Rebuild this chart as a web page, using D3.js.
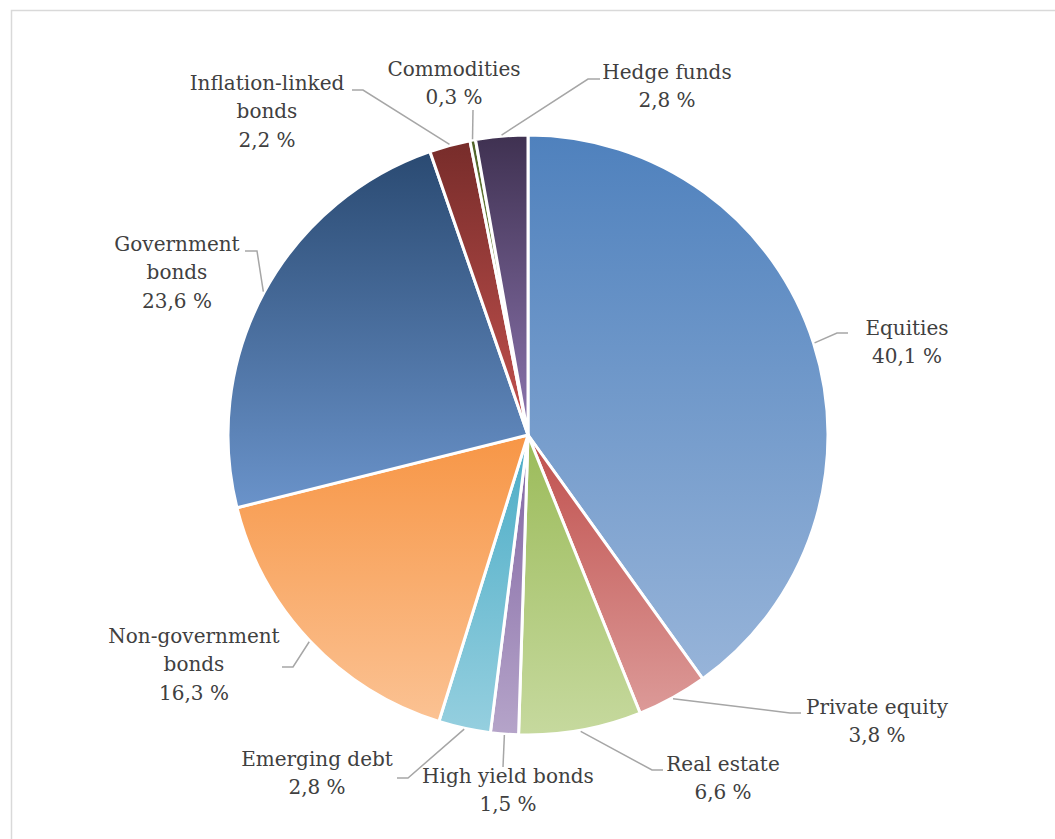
<!DOCTYPE html>
<html>
<head>
<meta charset="utf-8">
<script src="https://cdn.jsdelivr.net/npm/d3@7"></script>
<style>
  html, body { margin: 0; padding: 0; background: #ffffff; }
  svg { display: block; }
</style>
</head>
<body>
<svg id="chart" width="1055" height="839"></svg>
<script>
// ---- data ----
const categories = ["Equities", "Private equity", "Real estate", "High yield bonds", "Emerging debt",
  "Non-government bonds", "Government bonds", "Inflation-linked bonds", "Commodities", "Hedge funds"];
const values = [40.1, 3.8, 6.6, 1.5, 2.8, 16.3, 23.6, 2.2, 0.3, 2.8];
const labelLines = [["Equities"], ["Private equity"], ["Real estate"], ["High yield bonds"], ["Emerging debt"],
  ["Non-government", "bonds"], ["Government", "bonds"], ["Inflation-linked", "bonds"], ["Commodities"], ["Hedge funds"]];

// ---- styles ----
const gradTop = ["#4f81bd", "#c0504d", "#9bbb59", "#8064a2", "#4bacc6", "#f79646", "#2a4a72", "#772c2a", "#4f6228", "#3f3151"];
const gradBottom = ["#97b4d9", "#dc9a98", "#c6d99e", "#b5a4c9", "#95cfdf", "#fbc293", "#6a93ca", "#c4524f", "#9bbb59", "#8d76b0"];

// ---- layout of labels (center x, first baseline y, elbow point, end x of horizontal segment) ----
const labelLayout = [
  { cx: 907, y: 335, ex: 837, ey: 333, hx: 848 },
  { cx: 877, y: 714, ex: 790, ey: 713, hx: 801 },
  { cx: 723, y: 771, ex: 652, ey: 770, hx: 663 },
  { cx: 508, y: 783, ex: 503, ey: 767, hx: 503 },
  { cx: 317, y: 766, ex: 408, ey: 778, hx: 397 },
  { cx: 194, y: 643, ex: 293, ey: 667, hx: 282 },
  { cx: 177, y: 251, ex: 257, ey: 251, hx: 245 },
  { cx: 267, y: 90,  ex: 363, ey: 90,  hx: 352 },
  { cx: 454, y: 76,  ex: 473, ey: 110, hx: 473 },
  { cx: 667, y: 79,  ex: 588, ey: 79,  hx: 600 }
];

const W = 1055, H = 839;
const cx = 528, cy = 435, R = 300;
const lineH = 28.3;

const svg = d3.select("#chart");

// outer border
svg.append("rect")
  .attr("x", 11.5).attr("y", 10.5)
  .attr("width", W + 10).attr("height", H + 10)
  .attr("fill", "none").attr("stroke", "#d9d9d9").attr("stroke-width", 1.5);

const defs = svg.append("defs");
categories.forEach((c, i) => {
  const g = defs.append("linearGradient").attr("id", "grad" + i)
    .attr("x1", 0).attr("y1", 0).attr("x2", 0).attr("y2", 1);
  g.append("stop").attr("offset", "0%").attr("stop-color", gradTop[i]);
  g.append("stop").attr("offset", "100%").attr("stop-color", gradBottom[i]);
});

const data = categories.map((c, i) => ({ name: c, value: values[i], idx: i }));
const pie = d3.pie().value(d => d.value).sort(null);
const arcs = pie(data);
const arc = d3.arc().innerRadius(0).outerRadius(R);

const g = svg.append("g").attr("transform", `translate(${cx},${cy})`);
g.selectAll("path.slice").data(arcs).join("path")
  .attr("class", "slice")
  .attr("d", arc)
  .attr("fill", d => `url(#grad${d.data.idx})`)
  .attr("stroke", "#ffffff")
  .attr("stroke-width", 3)
  .attr("stroke-linejoin", "round");

// leader lines
const fmt = v => d3.format(".1f")(v).replace(".", ",") + " %";
arcs.forEach(d => {
  const i = d.data.idx;
  const L = labelLayout[i];
  const mid = (d.startAngle + d.endAngle) / 2;
  const sx = cx + (R + 1) * Math.sin(mid);
  const sy = cy - (R + 1) * Math.cos(mid);
  const pts = [[sx, sy], [L.ex, L.ey], [L.hx, L.ey]];
  svg.append("path")
    .attr("d", d3.line()(pts))
    .attr("fill", "none")
    .attr("stroke", "#a6a6a6")
    .attr("stroke-width", 1.5);

  const lines = labelLines[i].concat([fmt(d.data.value)]);
  const t = svg.append("text")
    .attr("text-anchor", "middle")
    .attr("font-family", "'DejaVu Serif', serif")
    .attr("font-size", 20)
    .attr("fill", "#404040");
  lines.forEach((ln, k) => {
    t.append("tspan").attr("x", L.cx).attr("y", L.y + k * lineH).text(ln);
  });
});
</script>
</body>
</html>
